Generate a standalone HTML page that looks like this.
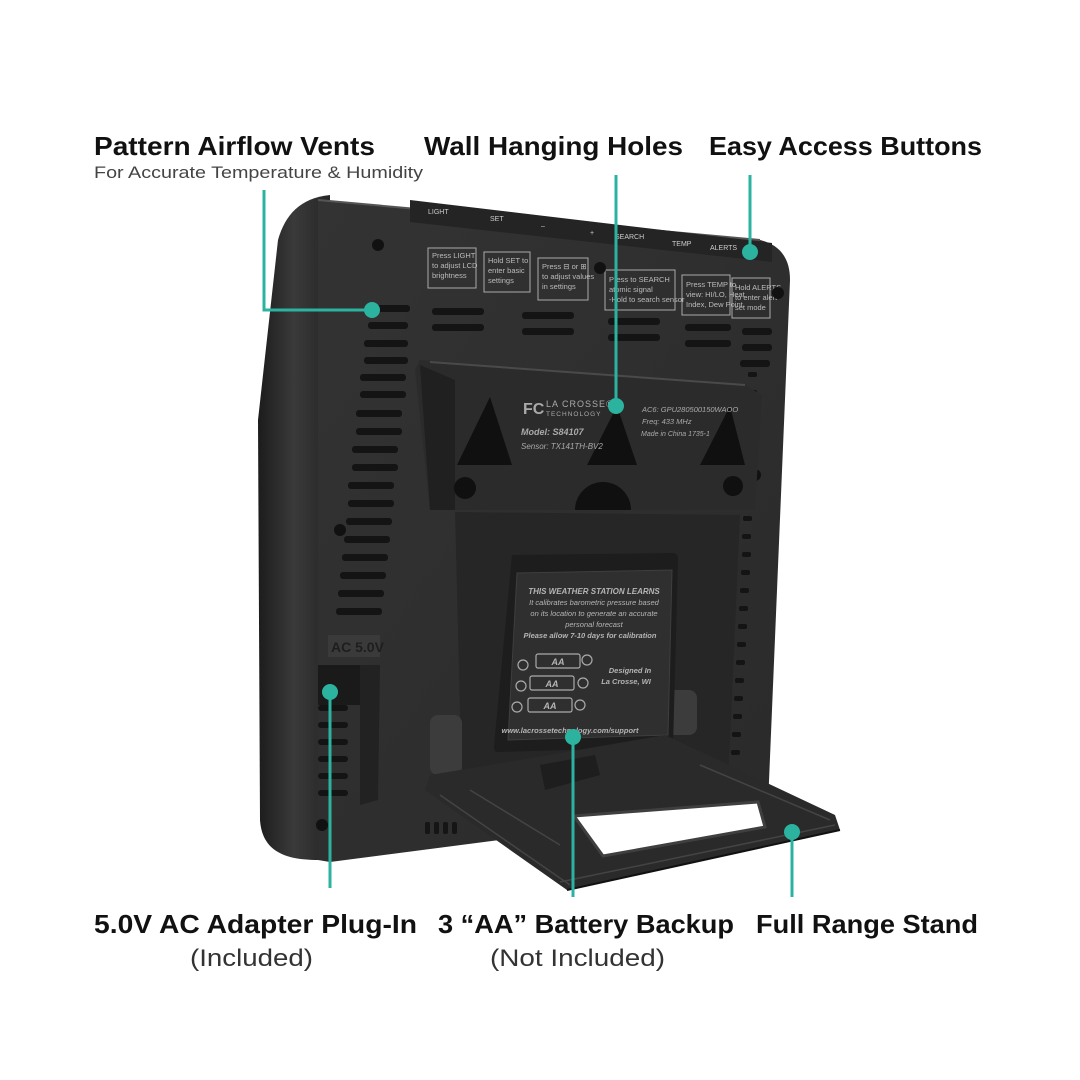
<!DOCTYPE html>
<html><head><meta charset="utf-8"><style>
html,body{margin:0;padding:0;background:#fff;}
svg{display:block;}
</style></head><body>
<svg width="1080" height="1080" viewBox="0 0 1080 1080" xmlns="http://www.w3.org/2000/svg" font-family="Liberation Sans, sans-serif">
<rect width="1080" height="1080" fill="#fff"/>
<defs>
<linearGradient id="side" x1="0" x2="1"><stop offset="0" stop-color="#1c1c1c"/><stop offset="0.5" stop-color="#3a3a3a"/><stop offset="1" stop-color="#262626"/></linearGradient>
<linearGradient id="face" x1="0" y1="0" x2="1" y2="1"><stop offset="0" stop-color="#333"/><stop offset="1" stop-color="#2a2a2a"/></linearGradient>
</defs>
<!-- left side edge of body -->
<path d="M330,195 C300,198 285,215 278,240 L258,420 L260,820 C262,848 280,860 318,860 L330,860 Z" fill="url(#side)"/>
<!-- main face -->
<path d="M318,200 L760,240 C780,245 790,258 790,280 L768,805 L330,862 L318,860 Z" fill="url(#face)"/>
<path d="M318,200 L760,240" stroke="#555" stroke-width="2"/>
<!-- buttons -->
<path d="M410,200 L772,243 L772,262 L410,222 Z" fill="#242424"/>
<g fill="#ccc" font-size="7">
<text x="428" y="214">LIGHT</text><text x="490" y="221">SET</text><text x="541" y="228">–</text><text x="590" y="235">+</text><text x="615" y="239">SEARCH</text><text x="672" y="246">TEMP</text><text x="710" y="250">ALERTS</text>
</g>
<!-- instruction boxes -->
<g fill="none" stroke="#aaa" stroke-width="1">
<rect x="428" y="248" width="48" height="40"/><rect x="484" y="252" width="46" height="40"/><rect x="538" y="258" width="50" height="42"/>
<rect x="605" y="270" width="70" height="40"/><rect x="682" y="275" width="48" height="40"/><rect x="732" y="278" width="38" height="40"/>
</g>
<g fill="#bbb" font-size="7.5">
<text x="432" y="258">Press LIGHT</text><text x="432" y="268">to adjust LCD</text><text x="432" y="278">brightness</text>
<text x="488" y="263">Hold SET to</text><text x="488" y="273">enter basic</text><text x="488" y="283">settings</text>
<text x="542" y="269">Press ⊟ or ⊞</text><text x="542" y="279">to adjust values</text><text x="542" y="289">in settings</text>
<text x="609" y="282">Press to SEARCH</text><text x="609" y="292">atomic signal</text><text x="609" y="302">-Hold to search sensor</text>
<text x="686" y="287">Press TEMP to</text><text x="686" y="297">view: HI/LO, Heat</text><text x="686" y="307">Index, Dew Point</text>
<text x="735" y="290">Hold ALERTS</text><text x="735" y="300">to enter alert</text><text x="735" y="310">set mode</text>
</g>
<g fill="#111"><circle cx="378" cy="245" r="6"/><circle cx="600" cy="268" r="6"/><circle cx="778" cy="293" r="6"/><circle cx="340" cy="530" r="6"/><circle cx="755" cy="475" r="6"/><circle cx="322" cy="825" r="6"/></g>
<!-- top vents -->
<g fill="#141414">
<rect x="372" y="305" width="38" height="7" rx="3"/><rect x="368" y="322" width="40" height="7" rx="3"/>
<rect x="432" y="308" width="52" height="7" rx="3"/><rect x="432" y="324" width="52" height="7" rx="3"/>
<rect x="522" y="312" width="52" height="7" rx="3"/><rect x="522" y="328" width="52" height="7" rx="3"/>
<rect x="608" y="318" width="52" height="7" rx="3"/><rect x="608" y="334" width="52" height="7" rx="3"/>
<rect x="685" y="324" width="46" height="7" rx="3"/><rect x="685" y="340" width="46" height="7" rx="3"/>
<rect x="742" y="328" width="30" height="7" rx="3"/><rect x="742" y="344" width="30" height="7" rx="3"/><rect x="740" y="360" width="30" height="7" rx="3"/>
</g>
<!-- left vents -->
<g fill="#141414">
<rect x="364" y="340" width="44" height="7" rx="3"/><rect x="364" y="357" width="44" height="7" rx="3"/>
<rect x="360" y="374" width="46" height="7" rx="3"/><rect x="360" y="391" width="46" height="7" rx="3"/>
<rect x="356" y="410" width="46" height="7" rx="3"/><rect x="356" y="428" width="46" height="7" rx="3"/>
<rect x="352" y="446" width="46" height="7" rx="3"/><rect x="352" y="464" width="46" height="7" rx="3"/>
<rect x="348" y="482" width="46" height="7" rx="3"/><rect x="348" y="500" width="46" height="7" rx="3"/>
<rect x="346" y="518" width="46" height="7" rx="3"/><rect x="344" y="536" width="46" height="7" rx="3"/>
<rect x="342" y="554" width="46" height="7" rx="3"/><rect x="340" y="572" width="46" height="7" rx="3"/>
<rect x="338" y="590" width="46" height="7" rx="3"/><rect x="336" y="608" width="46" height="7" rx="3"/>
<rect x="318" y="705" width="30" height="6" rx="3"/><rect x="318" y="722" width="30" height="6" rx="3"/><rect x="318" y="739" width="30" height="6" rx="3"/><rect x="318" y="756" width="30" height="6" rx="3"/><rect x="318" y="773" width="30" height="6" rx="3"/><rect x="318" y="790" width="30" height="6" rx="3"/>
</g>
<!-- right vent dots -->
<g fill="#141414">
<rect x="748" y="372" width="9" height="5" rx="2"/><rect x="748" y="390" width="9" height="5" rx="2"/><rect x="747" y="408" width="9" height="5" rx="2"/><rect x="747" y="426" width="9" height="5" rx="2"/><rect x="746" y="444" width="9" height="5" rx="2"/><rect x="745" y="462" width="9" height="5" rx="2"/><rect x="744" y="498" width="9" height="5" rx="2"/><rect x="743" y="516" width="9" height="5" rx="2"/><rect x="742" y="534" width="9" height="5" rx="2"/><rect x="742" y="552" width="9" height="5" rx="2"/><rect x="741" y="570" width="9" height="5" rx="2"/><rect x="740" y="588" width="9" height="5" rx="2"/><rect x="739" y="606" width="9" height="5" rx="2"/><rect x="738" y="624" width="9" height="5" rx="2"/><rect x="737" y="642" width="9" height="5" rx="2"/><rect x="736" y="660" width="9" height="5" rx="2"/><rect x="735" y="678" width="9" height="5" rx="2"/><rect x="734" y="696" width="9" height="5" rx="2"/><rect x="733" y="714" width="9" height="5" rx="2"/><rect x="732" y="732" width="9" height="5" rx="2"/><rect x="731" y="750" width="9" height="5" rx="2"/>
</g>
<!-- adapter area -->
<rect x="328" y="635" width="52" height="22" fill="#3a3a3a"/>
<text x="331" y="652" font-size="14" font-weight="bold" fill="#1e1e1e">AC 5.0V</text>
<rect x="318" y="665" width="44" height="40" fill="#1a1a1a"/>
<path d="M360,665 L380,665 L378,800 L360,805 Z" fill="#222"/>
<!-- upper raised panel -->
<path d="M420,360 L745,385 L762,395 L755,510 L430,510 L415,370 Z" fill="#2b2b2b"/>
<path d="M430,362 L745,385" stroke="#4a4a4a" stroke-width="2"/>
<path d="M420,365 L455,380 L455,510 L430,510 Z" fill="#202020"/>
<g fill="#101010">
<path d="M490,397 L512,465 L457,465 Z"/><path d="M617,406 L637,465 L587,465 Z"/><path d="M730,406 L745,465 L700,465 Z"/>
<circle cx="465" cy="488" r="11"/><circle cx="733" cy="486" r="10"/>
<path d="M575,510 A28,28 0 0 1 631,510 Z"/>
</g>
<g fill="#aaa">
<text x="523" y="414" font-size="16" font-weight="bold">FC</text>
<text x="546" y="407" font-size="9" letter-spacing="1">LA CROSSE®</text>
<text x="546" y="416" font-size="6.5" letter-spacing="1">TECHNOLOGY</text>
<text x="521" y="435" font-size="9" font-weight="bold" font-style="italic">Model: S84107</text>
<text x="521" y="449" font-size="8" font-style="italic">Sensor: TX141TH-BV2</text>
<text x="642" y="412" font-size="7.5" font-style="italic">AC6: GPU280500150WAOO</text>
<text x="642" y="424" font-size="7.5" font-style="italic">Freq: 433 MHz</text>
<text x="641" y="436" font-size="7" font-style="italic">Made in China 1735-1</text>
</g>
<!-- lower panel -->
<path d="M455,512 L740,515 L728,785 L462,790 Z" fill="#262626"/>
<!-- pegs -->
<rect x="430" y="715" width="32" height="60" rx="8" fill="#3c3c3c"/>
<rect x="665" y="690" width="32" height="45" rx="8" fill="#3c3c3c"/>
<!-- battery door -->
<path d="M512,555 L673,553 Q678,553 678,560 L673,747 L497,752 Q494,752 494,746 Z" fill="#1d1d1d"/>
<path d="M517,573 L672,570 L668,735 L508,740 Z" fill="#2f2f2f" stroke="#3e3e3e"/>
<g fill="#b5b5b5" font-style="italic" text-anchor="middle">
<text x="594" y="594" font-size="8" font-weight="bold">THIS WEATHER STATION LEARNS</text>
<text x="594" y="605" font-size="7.5">It calibrates barometric pressure based</text>
<text x="594" y="616" font-size="7.5">on its location to generate an accurate</text>
<text x="594" y="627" font-size="7.5">personal forecast</text>
<text x="590" y="638" font-size="7.5" font-weight="bold">Please allow 7-10 days for calibration</text>
<text x="630" y="673" font-size="7.5" font-weight="bold">Designed In</text>
<text x="626" y="684" font-size="7.5" font-weight="bold">La Crosse, WI</text>
<text x="570" y="733" font-size="7.5" font-weight="bold">www.lacrossetechnology.com/support</text>
</g>
<g fill="none" stroke="#aaa" stroke-width="1.2">
<rect x="536" y="654" width="44" height="14" rx="2"/><rect x="530" y="676" width="44" height="14" rx="2"/><rect x="528" y="698" width="44" height="14" rx="2"/>
<circle cx="523" cy="665" r="5"/><circle cx="587" cy="660" r="5"/><circle cx="521" cy="686" r="5"/><circle cx="583" cy="683" r="5"/><circle cx="517" cy="707" r="5"/><circle cx="580" cy="705" r="5"/>
</g>
<g fill="#b5b5b5" font-size="9" font-style="italic" font-weight="bold" text-anchor="middle"><text x="558" y="665">AA</text><text x="552" y="687">AA</text><text x="550" y="709">AA</text></g>
<!-- bottom vents -->
<g fill="#151515"><rect x="425" y="822" width="5" height="12" rx="2"/><rect x="434" y="822" width="5" height="12" rx="2"/><rect x="443" y="822" width="5" height="12" rx="2"/><rect x="452" y="822" width="5" height="12" rx="2"/><rect x="655" y="790" width="5" height="10" rx="2"/><rect x="664" y="790" width="5" height="10" rx="2"/><rect x="673" y="790" width="5" height="10" rx="2"/><rect x="682" y="790" width="5" height="10" rx="2"/><rect x="691" y="790" width="5" height="10" rx="2"/><rect x="700" y="790" width="5" height="10" rx="2"/></g>
<!-- stand -->
<path d="M430,775 L520,760 L665,735 L835,815 L840,830 L567,890 L425,790 Z" fill="#2a2a2a"/>
<path d="M574,816 L758,802 L765,827 L603,856 Z" fill="#fff"/>
<path d="M574,816 L758,802 L765,827 L603,856 Z" fill="none" stroke="#3f3f3f" stroke-width="3"/>
<path d="M540,765 L545,790 L600,775 L595,755 Z" fill="#1e1e1e"/>
<path d="M440,795 L570,885 M470,790 L560,845 M560,882 L835,825 M700,765 L830,820" stroke="#444" stroke-width="1.5" fill="none"/>
<path d="M567,890 L840,830" stroke="#111" stroke-width="2"/>
<!-- connectors -->
<g stroke="#2bb3a0" stroke-width="3" fill="none">
<path d="M264,190 L264,310 L372,310"/>
<path d="M616,175 L616,406"/>
<path d="M750,175 L750,252"/>
<path d="M330,692 L330,888"/>
<path d="M573,737 L573,897"/>
<path d="M792,832 L792,897"/>
</g>
<g fill="#2bb3a0">
<circle cx="372" cy="310" r="8"/><circle cx="616" cy="406" r="8"/><circle cx="750" cy="252" r="8"/>
<circle cx="330" cy="692" r="8"/><circle cx="573" cy="737" r="8"/><circle cx="792" cy="832" r="8"/>
</g>
<!-- labels -->
<g fill="#111" font-weight="bold" font-size="26">
<text x="94" y="155" textLength="281" lengthAdjust="spacingAndGlyphs">Pattern Airflow Vents</text>
<text x="424" y="155" textLength="259" lengthAdjust="spacingAndGlyphs">Wall Hanging Holes</text>
<text x="709" y="155" textLength="273" lengthAdjust="spacingAndGlyphs">Easy Access Buttons</text>
<text x="94" y="933" textLength="323" lengthAdjust="spacingAndGlyphs">5.0V AC Adapter Plug-In</text>
<text x="438" y="933" textLength="296" lengthAdjust="spacingAndGlyphs">3 “AA” Battery Backup</text>
<text x="756" y="933" textLength="222" lengthAdjust="spacingAndGlyphs">Full Range Stand</text>
</g>
<text x="94" y="178" font-size="17" fill="#444" textLength="329" lengthAdjust="spacingAndGlyphs">For Accurate Temperature &amp; Humidity</text>
<text x="190" y="966" font-size="24" fill="#333" textLength="123" lengthAdjust="spacingAndGlyphs">(Included)</text>
<text x="490" y="966" font-size="24" fill="#333" textLength="175" lengthAdjust="spacingAndGlyphs">(Not Included)</text>
</svg>
</body></html>
